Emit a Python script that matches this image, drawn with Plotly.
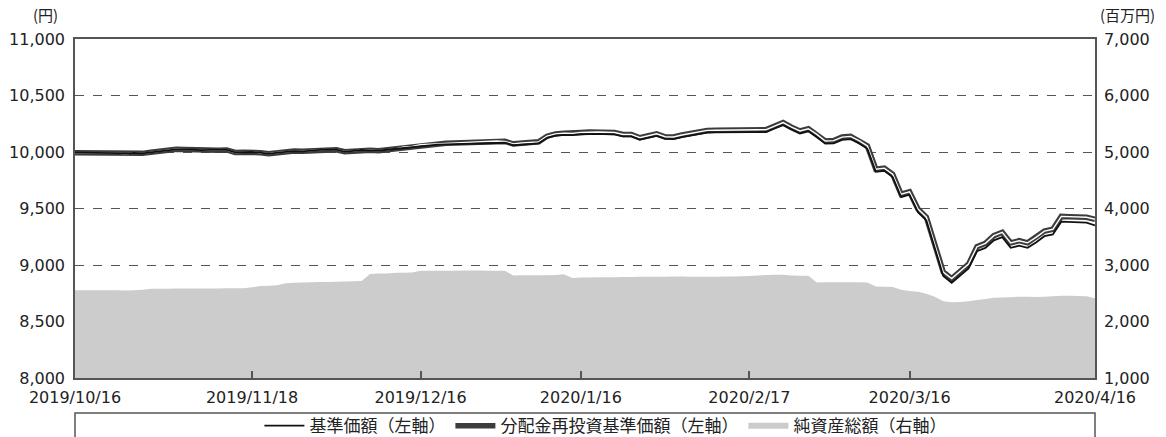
import pandas as pd
import plotly.graph_objects as go

# --- categories: fund business days ---
holidays = ["2019-10-22", "2019-11-04", "2019-12-31", "2020-01-01", "2020-01-02",
            "2020-01-03", "2020-01-20", "2020-02-11", "2020-02-24", "2020-03-20"]
days = pd.bdate_range("2019-10-16", "2020-04-16", freq="C", holidays=holidays)
dates = [f"{d.year}/{d.month}/{d.day}" for d in days]

tick_labels = ["2019/10/16", "2019/11/18", "2019/12/16", "2020/1/16",
               "2020/2/17", "2020/3/16", "2020/4/16"]

# 分配金再投資基準価額 (円)
reinvest_nav = [
    9994, 9994, 9990, 9988, 9992, 9990, 9985, 9992, 9988, 9998,
    10009, 10018, 10024, 10022, 10018, 10016, 10018, 10015, 10018, 9996,
    9998, 10000, 9994, 9984, 9995, 10000, 10008, 10006, 10012, 10018,
    10025, 10020, 10002, 10010, 10018, 10015, 10012, 10020, 10028, 10045,
    10050, 10064, 10068, 10075, 10078, 10080, 10082, 10086, 10090, 10096,
    10098, 10094, 10072, 10079, 10086, 10090, 10140, 10160, 10167, 10165,
    10173, 10177, 10177, 10175, 10173, 10155, 10155, 10126, 10145, 10161,
    10135, 10133, 10150, 10165, 10176, 10191, 10193, 10195, 10195, 10197,
    10197, 10197, 10198, 10230, 10260, 10220, 10186, 10206, 10156, 10097,
    10101, 10132, 10138, 10101, 10053, 9848, 9857, 9803, 9626, 9648,
    9495, 9423, 9172, 8938, 8880, 8940, 9008, 9162, 9192, 9260,
    9290, 9195, 9215, 9196, 9244, 9300, 9316, 9430, 9428, 9424,
    9422, 9405,
]

# 基準価額 (円)
nav = [
    9994, 9994, 9990, 9988, 9992, 9990, 9985, 9992, 9988, 9998,
    10009, 10018, 10024, 10022, 10018, 10016, 10018, 10015, 10018, 9996,
    9998, 10000, 9994, 9984, 9995, 10000, 10008, 10006, 10012, 10018,
    10025, 10020, 10002, 10010, 10018, 10015, 10012, 10020, 10028, 10040,
    10043, 10056, 10059, 10066, 10068, 10070, 10072, 10075, 10079, 10084,
    10086, 10082, 10060, 10067, 10073, 10077, 10126, 10145, 10152, 10150,
    10157, 10161, 10161, 10158, 10156, 10138, 10138, 10109, 10127, 10143,
    10117, 10114, 10131, 10146, 10157, 10171, 10173, 10175, 10175, 10176,
    10176, 10176, 10177, 10208, 10238, 10198, 10164, 10183, 10133, 10074,
    10077, 10108, 10114, 10077, 10029, 9824, 9833, 9779, 9601, 9622,
    9468, 9394, 9140, 8903, 8843, 8902, 8969, 9122, 9151, 9218,
    9247, 9152, 9171, 9152, 9199, 9255, 9270, 9383, 9381, 9377,
    9375, 9350,
]

# 純資産総額 (百万円)
net_assets = [
    2555, 2555, 2555, 2555, 2555, 2552, 2550, 2555, 2560, 2578,
    2580, 2580, 2582, 2582, 2583, 2584, 2585, 2586, 2587, 2588,
    2590, 2605, 2630, 2634, 2640, 2676, 2687, 2690, 2694, 2698,
    2700, 2705, 2708, 2712, 2717, 2841, 2850, 2850, 2864, 2864,
    2866, 2900, 2900, 2900, 2900, 2900, 2902, 2902, 2902, 2900,
    2900, 2900, 2812, 2818, 2818, 2818, 2820, 2822, 2836, 2770,
    2780, 2780, 2782, 2782, 2784, 2786, 2788, 2790, 2790, 2792,
    2793, 2795, 2795, 2793, 2790, 2790, 2792, 2795, 2798, 2800,
    2805, 2815, 2822, 2828, 2828, 2812, 2810, 2808, 2690, 2694,
    2694, 2694, 2696, 2694, 2690, 2620, 2616, 2610, 2560, 2540,
    2527, 2490, 2440, 2360, 2340, 2345, 2360, 2380, 2400, 2420,
    2425, 2430, 2440, 2440, 2435, 2440, 2445, 2455, 2455, 2450,
    2445, 2410,
]

assert len(dates) == len(nav) == len(reinvest_nav) == len(net_assets)

TXT = "#222222"
AX = "#555555"
FONT = "Noto Sans CJK JP"
NUMFONT = "DejaVu Sans, Noto Sans CJK JP"

fig = go.Figure()

fig.add_trace(go.Scatter(
    x=dates, y=net_assets, yaxis="y2", name="純資産総額（右軸）",
    mode="none", fill="tozeroy", fillcolor="#cccccc", legendrank=3,
    hoverinfo="skip"))

fig.add_trace(go.Scatter(
    x=dates, y=reinvest_nav, name="分配金再投資基準価額（左軸）",
    mode="lines", line=dict(color="#3c3c3c", width=5.5), legendrank=2))
fig.add_trace(go.Scatter(
    x=dates, y=reinvest_nav, showlegend=False,
    mode="lines", line=dict(color="#ffffff", width=1.4), hoverinfo="skip"))
fig.add_trace(go.Scatter(
    x=dates, y=nav, name="基準価額（左軸）",
    mode="lines", line=dict(color="#111111", width=1.8), legendrank=1))

fig.update_layout(
    template="none",
    width=1166, height=437,
    margin=dict(l=75, r=71, t=39, b=59, autoexpand=False),
    paper_bgcolor="white", plot_bgcolor="white",
    font=dict(family=FONT, size=16, color=TXT),
    showlegend=True,
    legend=dict(orientation="h", x=0.52, xanchor="center",
                yref="container", y=0.025, yanchor="middle",
                font=dict(size=17, color=TXT),
                bgcolor="rgba(0,0,0,0)", itemwidth=40, traceorder="normal"),
    xaxis=dict(type="category", range=[0, len(dates) - 1], automargin=False,
               tickvals=tick_labels, ticktext=tick_labels,
               showline=True, mirror=True, linecolor=AX, linewidth=1.5,
               ticks="inside", ticklen=7, tickcolor=AX, tickwidth=1.5,
               showgrid=False, zeroline=False, ticklabelstandoff=4,
               tickfont=dict(family=NUMFONT, size=16, color=TXT)),
    yaxis=dict(range=[8000, 11000], tickvals=list(range(8000, 11001, 500)),
               tickformat=",", showline=True, linecolor=AX, linewidth=1.5,
               automargin=False,
               showgrid=True, gridcolor=AX, gridwidth=1.3, griddash="dash",
               zeroline=False, ticks="", ticklabelstandoff=5,
               tickfont=dict(family=NUMFONT, size=16, color=TXT)),
    yaxis2=dict(range=[1000, 7000], tickvals=list(range(1000, 7001, 1000)),
                tickformat=",", overlaying="y", side="right", automargin=False,
                showline=True, linecolor=AX, linewidth=1.5,
                showgrid=False, zeroline=False, ticks="", ticklabelstandoff=4,
                tickfont=dict(family=NUMFONT, size=16, color=TXT)),
    annotations=[
        dict(text="(円)", x=-0.029, y=1.071, xref="paper", yref="paper",
             xanchor="center", yanchor="middle",
             showarrow=False, font=dict(size=15, color=TXT)),
        dict(text="(百万円)", x=1.032, y=1.071, xref="paper", yref="paper",
             xanchor="center", yanchor="middle",
             showarrow=False, font=dict(size=15, color=TXT)),
    ],
    shapes=[
        dict(type="rect", xref="paper", yref="paper", x0=0, x1=1,
             y0=-0.35, y1=-0.1032, line=dict(color=AX, width=1.5),
             fillcolor="rgba(0,0,0,0)", layer="below"),
    ],
)

fig.write_html("out.html", config={"displayModeBar": False},
               post_script="document.body.style.margin='0';")
